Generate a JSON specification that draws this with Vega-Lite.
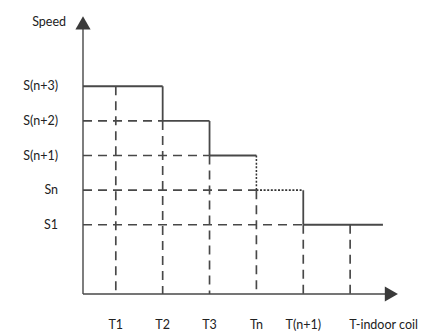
{
  "$schema": "https://vega.github.io/schema/vega-lite/v6.json",
  "width": 314,
  "height": 277,
  "padding": {"left": 83, "top": 17, "right": 45, "bottom": 40},
  "autosize": {"type": "none"},
  "background": "white",
  "config": {"view": {"stroke": null}},
  "datasets": {
    "segs": [
      {"x": 0.3, "x2": 2, "y": 6, "y2": 6, "kind": "solid"},
      {"x": 2, "x2": 2, "y": 6, "y2": 5, "kind": "solid"},
      {"x": 2, "x2": 3, "y": 5, "y2": 5, "kind": "solid"},
      {"x": 3, "x2": 3, "y": 5, "y2": 4, "kind": "solid"},
      {"x": 3, "x2": 4, "y": 4, "y2": 4, "kind": "solid"},
      {"x": 4, "x2": 4, "y": 4, "y2": 3, "kind": "dotted"},
      {"x": 4, "x2": 5, "y": 3, "y2": 3, "kind": "dotted"},
      {"x": 5, "x2": 5, "y": 3, "y2": 2, "kind": "solid"},
      {"x": 5, "x2": 6.7, "y": 2, "y2": 2, "kind": "solid"},
      {"x": 0.3, "x2": 2, "y": 5, "y2": 5, "kind": "dashed"},
      {"x": 0.3, "x2": 3, "y": 4, "y2": 4, "kind": "dashed"},
      {"x": 0.3, "x2": 4, "y": 3, "y2": 3, "kind": "dashed"},
      {"x": 0.3, "x2": 5, "y": 2, "y2": 2, "kind": "dashed"},
      {"x": 1, "x2": 1, "y": 6, "y2": 0, "kind": "dashed"},
      {"x": 2, "x2": 2, "y": 5, "y2": 0, "kind": "dashed"},
      {"x": 3, "x2": 3, "y": 4, "y2": 0, "kind": "dashed"},
      {"x": 4, "x2": 4, "y": 3, "y2": 0, "kind": "dashed"},
      {"x": 5, "x2": 5, "y": 2, "y2": 0, "kind": "dashed"},
      {"x": 6, "x2": 6, "y": 2, "y2": 0, "kind": "dashed"},
      {"x": 0.3, "x2": 6.75, "y": 0, "y2": 0, "kind": "axis"},
      {"x": 0.3, "x2": 0.3, "y": 0, "y2": 7.65, "kind": "axis"}
    ],
    "arrows": [
      {"x": 6.88, "y": 0, "dir": "right"},
      {"x": 0.3, "y": 7.83, "dir": "up"}
    ],
    "ylabels": [
      {"x": 0.3, "y": 6, "label": "S(n+3)"},
      {"x": 0.3, "y": 5, "label": "S(n+2)"},
      {"x": 0.3, "y": 4, "label": "S(n+1)"},
      {"x": 0.3, "y": 3, "label": "Sn"},
      {"x": 0.3, "y": 2, "label": "S1"}
    ],
    "xlabels": [
      {"x": 1, "y": 0, "label": "T1"},
      {"x": 2, "y": 0, "label": "T2"},
      {"x": 3, "y": 0, "label": "T3"},
      {"x": 4, "y": 0, "label": "Tn"},
      {"x": 5, "y": 0, "label": "T(n+1)"}
    ],
    "extra": [
      {"x": 6, "y": 0, "label": "T-indoor coil"}
    ],
    "title": [
      {"x": 0.3, "y": 7.85, "label": "Speed"}
    ]
  },
  "layer": [
    {
      "data": {"name": "segs"},
      "mark": {"type": "rule", "color": "#484848"},
      "encoding": {
        "x": {"field": "x", "type": "quantitative", "scale": {"domain": [0.3, 7], "nice": false, "zero": false}, "axis": null},
        "x2": {"field": "x2"},
        "y": {"field": "y", "type": "quantitative", "scale": {"domain": [0, 8], "nice": false}, "axis": null},
        "y2": {"field": "y2"},
        "strokeDash": {"field": "kind", "type": "nominal", "scale": {"domain": ["solid", "dashed", "dotted", "axis"], "range": [[1, 0], [9, 6], [2, 1.6], [1, 0]]}, "legend": null},
        "strokeWidth": {"field": "kind", "type": "nominal", "scale": {"domain": ["solid", "dashed", "dotted", "axis"], "range": [1.8, 1.4, 2, 2.4]}, "legend": null},
        "color": {"field": "kind", "type": "nominal", "scale": {"domain": ["solid", "dashed", "dotted", "axis"], "range": ["#484848", "#484848", "#333333", "#484848"]}, "legend": null}
      }
    },
    {
      "data": {"name": "arrows"},
      "mark": {"type": "point", "filled": true, "color": "#3a3a3a", "size": 230, "opacity": 1},
      "encoding": {
        "x": {"field": "x", "type": "quantitative"},
        "y": {"field": "y", "type": "quantitative"},
        "shape": {"field": "dir", "type": "nominal", "scale": {"domain": ["right", "up"], "range": ["triangle-right", "triangle-up"]}, "legend": null}
      }
    },
    {
      "data": {"name": "ylabels"},
      "mark": {"type": "text", "align": "right", "baseline": "middle", "dx": -25, "font": "Lato", "fontSize": 12.5, "color": "#222222"},
      "encoding": {
        "x": {"field": "x", "type": "quantitative"},
        "y": {"field": "y", "type": "quantitative"},
        "text": {"field": "label"}
      }
    },
    {
      "data": {"name": "xlabels"},
      "mark": {"type": "text", "align": "center", "baseline": "middle", "dy": 31, "font": "Lato", "fontSize": 12.5, "color": "#222222"},
      "encoding": {
        "x": {"field": "x", "type": "quantitative"},
        "y": {"field": "y", "type": "quantitative"},
        "text": {"field": "label"}
      }
    },
    {
      "data": {"name": "extra"},
      "mark": {"type": "text", "align": "left", "baseline": "middle", "dy": 31, "dx": -1, "font": "Lato", "fontSize": 12.5, "color": "#222222"},
      "encoding": {
        "x": {"field": "x", "type": "quantitative"},
        "y": {"field": "y", "type": "quantitative"},
        "text": {"field": "label"}
      }
    },
    {
      "data": {"name": "title"},
      "mark": {"type": "text", "align": "right", "baseline": "middle", "dx": -17, "font": "Lato", "fontSize": 12.5, "color": "#222222"},
      "encoding": {
        "x": {"field": "x", "type": "quantitative"},
        "y": {"field": "y", "type": "quantitative"},
        "text": {"field": "label"}
      }
    }
  ]
}
